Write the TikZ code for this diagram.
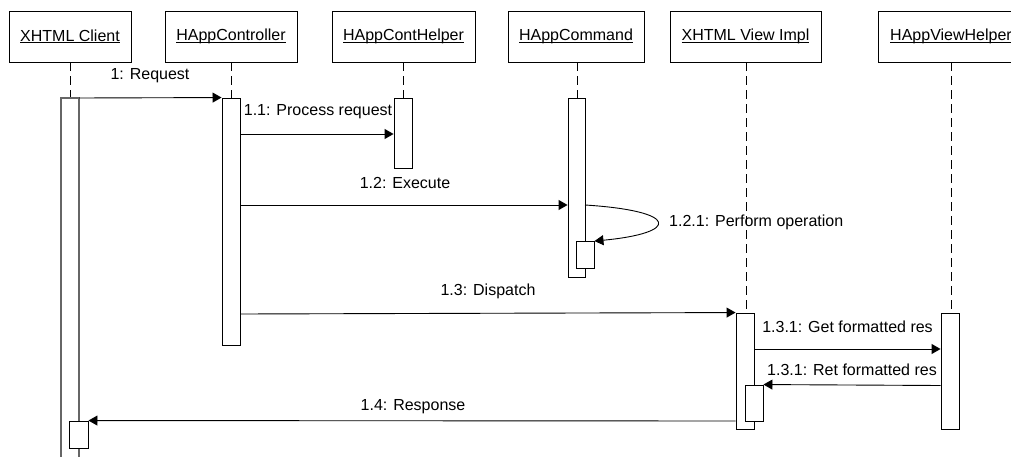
\documentclass[tikz,border=0pt]{standalone}
\usepackage{fontspec}
\setmainfont{Liberation Sans}
\usetikzlibrary{arrows.meta}
\newcommand\myul[1]{\setbox0\hbox{#1}\rlap{\rule[-2.2pt]{\wd0}{0.9pt}}\box0}
\begin{document}
\begin{tikzpicture}[x=1pt,y=-1pt,
  font=\fontsize{16}{19}\selectfont,
  hdr/.style={draw=black, line width=0.9pt, fill=white, minimum width=#1, minimum height=51pt, inner sep=0pt},
  life/.style={draw=black, line width=0.8pt, dash pattern=on 9pt off 5pt},
  act/.style={draw=black, line width=0.9pt, fill=white},
  msg/.style={draw=black, line width=0.9pt, -{Triangle[length=9pt,width=10pt]}},
  lbl/.style={inner sep=0pt, anchor=center}]
\useasboundingbox (0,0) rectangle (1011,457);
\clip (0,0) rectangle (1011,457);
% headers
\node[hdr=122pt] (client) at (70,36.5) {\myul{XHTML Client}};
\node[hdr=132pt] (ctrl) at (231,36.5) {\myul{HAppController}};
\node[hdr=143pt] (chelp) at (403.5,36.5) {\myul{HAppContHelper}};
\node[hdr=136pt] (cmd) at (576,36.5) {\myul{HAppCommand}};
\node[hdr=151pt] (view) at (745.5,36.5) {\myul{XHTML View Impl}};
\node[hdr=146pt] (vhelp) at (951,36.5) {\myul{HAppViewHelper}};
% lifelines (dashed parts)
\coordinate (clientA) at (70,98);
\coordinate (ctrlA) at (231,98);
\coordinate (chelpA) at (403,98);
\coordinate (cmdA) at (577,98);
\coordinate (viewA) at (746,313);
\coordinate (vhelpA) at (951,313);
\draw[life] (client.south -| clientA) -- (clientA);
\draw[life] (ctrl.south -| ctrlA) -- (ctrlA);
\draw[life] (chelp.south -| chelpA) -- (chelpA);
\draw[life] (cmd.south -| cmdA) -- (cmdA);
\draw[life] (view.south -| viewA) -- (viewA);
\draw[life] (vhelp.south -| vhelpA) -- (vhelpA);
% activations
\draw[draw=black!60, line width=1.1pt] (61,460) -- (61,98) -- (79,98) -- (79,460);
\node[act, minimum width=18pt, minimum height=247pt, inner sep=0pt] (ctrlAct) at (231,221.5) {};
\node[act, minimum width=18pt, minimum height=70pt, inner sep=0pt] (chelpAct) at (403,133) {};
\node[act, minimum width=17pt, minimum height=179pt, inner sep=0pt] (cmdAct) at (576.5,187.5) {};
\node[act, minimum width=18pt, minimum height=27pt, inner sep=0pt] (cmdSub) at (585,255) {};
\node[act, minimum width=18pt, minimum height=116pt, inner sep=0pt] (viewAct) at (745,371) {};
\node[act, minimum width=18pt, minimum height=36pt, inner sep=0pt] (viewSub) at (754,403) {};
\node[act, minimum width=18pt, minimum height=116pt, inner sep=0pt] (vhelpAct) at (950,371) {};
\node[act, minimum width=19pt, minimum height=27pt, inner sep=0pt] (clientSub) at (78.5,434.5) {};
% messages
\coordinate (clientR) at (79,98);
\draw[msg] (clientR) -- (ctrlAct.north west);
\node[lbl] (l1) at (150,76) {1: Request};
\draw[msg] (ctrlAct.east |- 0,134) -- (chelpAct.west |- 0,134);
\node[lbl] (l11) at (318,112) {1.1: Process request};
\draw[msg] (ctrlAct.east |- 0,205) -- (cmdAct.west |- 0,205);
\node[lbl] (l12) at (405,183) {1.2: Execute};
\coordinate (loopS) at (585,205);
\draw[msg] (loopS) .. controls (680,211) and (680,233) .. (cmdSub.north east);
\node[lbl, anchor=west] (l121) at (669,222) {1.2.1: Perform operation};
\draw[msg] (ctrlAct.east |- 0,314) -- (viewAct.north west);
\node[lbl] (l13) at (488,291) {1.3: Dispatch};
\draw[msg] (viewAct.east |- 0,349) -- (vhelpAct.west |- 0,349);
\node[lbl] (l131) at (847.5,327) {1.3.1: Get formatted res};
\draw[msg] (vhelpAct.west |- 0,385.5) -- (viewSub.north east);
\node[lbl] (l131b) at (852,370) {1.3.1: Ret formatted res};
\draw[msg] (viewAct.west |- 0,421) -- (clientSub.north east);
\node[lbl] (l14) at (413,407) {1.4: Response};
\end{tikzpicture}
\end{document}
